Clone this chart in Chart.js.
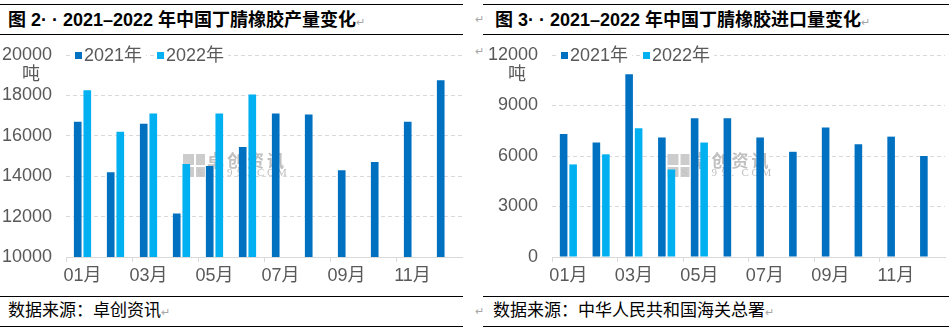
<!DOCTYPE html>
<html>
<head>
<meta charset="utf-8">
<script src="https://cdn.jsdelivr.net/npm/chart.js@4.4.1/dist/chart.umd.min.js"></script>
<style>
body { margin: 0; width: 949px; height: 330px; background: #fff; position: relative; overflow: hidden;
  font-family: "Liberation Sans", "Noto Sans CJK SC", sans-serif; }
.rule { position: absolute; height: 1px; background: #000; }
.title { position: absolute; font-weight: bold; font-size: 18px; line-height: 22px; color: #000; white-space: nowrap; }
.src { position: absolute; font-size: 17px; line-height: 20px; color: #000; white-space: nowrap; }
.mk { color: #a6a6a6; font-size: 11px; font-weight: normal; }
.cv { position: absolute; }
</style>
</head>
<body>
<div class="rule" style="left:0;top:4px;width:463px"></div>
<div class="rule" style="left:0;top:34px;width:463px"></div>
<div class="rule" style="left:0;top:296px;width:463px"></div>
<div class="rule" style="left:0;top:326px;width:463px"></div>
<div class="rule" style="left:483px;top:4px;width:466px"></div>
<div class="rule" style="left:483px;top:34px;width:466px"></div>
<div class="rule" style="left:483px;top:296px;width:466px"></div>
<div class="rule" style="left:483px;top:326px;width:466px"></div>

<div class="title" style="left:8px;top:9px">图 2· · 2021–2022 年中国丁腈橡胶产量变化<span class="mk">↵</span></div>
<div class="title" style="left:495px;top:9px">图 3· · 2021–2022 年中国丁腈橡胶进口量变化<span class="mk">↵</span></div>
<div class="src" style="left:8px;top:301px">数据来源：卓创资讯<span class="mk">↵</span></div>
<div class="src" style="left:493px;top:301px">数据来源：中华人民共和国海关总署<span class="mk">↵</span></div>
<div class="mk" style="position:absolute;left:475px;top:13px">↵</div>
<div class="mk" style="position:absolute;left:475px;top:45px">↵</div>
<div class="mk" style="position:absolute;left:475px;top:305px">↵</div>

<canvas id="c1" class="cv" width="463" height="259" style="left:0;top:36px"></canvas>
<canvas id="c2" class="cv" width="465" height="259" style="left:483px;top:36px"></canvas>

<script>
// 月份
var months = ['01月','02月','03月','04月','05月','06月','07月','08月','09月','10月','11月','12月'];
var seriesNames = ['2021年', '2022年'];

// 产量 (吨)
var prod2021 = [16700, 14200, 16600, 12150, 14500, 15450, 17100, 17050, 14300, 14700, 16700, 18750];
var prod2022 = [18250, 16200, 17100, 14600, 17100, 18050, null, null, null, null, null, null];
var prodTicks = [10000, 12000, 14000, 16000, 18000, 20000];

// 进口量 (吨)
var imp2021 = [7300, 6800, 10850, 7100, 8250, 8250, 7100, 6250, 7700, 6700, 7150, 6000];
var imp2022 = [5500, 6100, 7650, 5200, 6800, null, null, null, null, null, null, null];
var impTicks = [0, 3000, 6000, 9000, 12000];

var FONT = '"Liberation Sans Narrow", "Liberation Sans", "Noto Sans CJK SC", sans-serif';
var GREY = '#595959';
var GRID = '#d9d9d9';
var colors = ['#0070C0', '#00B0F0'];

var decor = {
  id: 'decor',
  beforeDatasetsDraw: function (chart) {
    // 卓创资讯 watermark
    var ctx = chart.ctx, a = chart.chartArea;
    var cx = (a.left + a.right) / 2 - 29, cy = (a.top + a.bottom) / 2 + 9;
    ctx.save();
    ctx.fillStyle = '#cccccc';
    ctx.fillRect(cx - 52, cy - 11, 22, 23);
    ctx.fillStyle = '#fff';
    ctx.fillRect(cx - 41, cy - 11, 2, 23);
    ctx.fillRect(cx - 52, cy, 22, 2);
    ctx.fillStyle = '#c0c0c0';
    ctx.font = 'bold 17px "Noto Sans CJK SC"';
    ctx.textBaseline = 'middle';
    '卓创资讯'.split('').forEach(function (ch, i) { ctx.fillText(ch, cx - 28 + i * 20, cy - 4); });
    ctx.font = '11px "Liberation Serif"';
    'SCI99.COM'.split('').forEach(function (ch, i) { ctx.fillText(ch, cx - 38 + i * 10, cy + 8); });
    ctx.restore();
  },
  afterDraw: function (chart) {
    var ctx = chart.ctx, a = chart.chartArea;
    ctx.save();
    ctx.font = '18px ' + FONT;
    ctx.textBaseline = 'middle';
    // unit
    ctx.fillStyle = GREY;
    ctx.textAlign = 'center';
    ctx.fillText('吨', a.left - 35, a.top + 20);
    // legend over the top grid line
    ctx.textAlign = 'left';
    var x = a.left + 9;
    chart.data.datasets.forEach(function (ds) {
      var w = ctx.measureText(ds.label).width;
      ctx.fillStyle = '#fff';
      ctx.fillRect(x - 2, a.top - 9, w + 15, 18);
      ctx.fillStyle = ds.backgroundColor;
      ctx.fillRect(x, a.top - 3, 7, 7);
      ctx.fillStyle = GREY;
      ctx.fillText(ds.label, x + 9, a.top + 1);
      x += w + 24;
    });
    ctx.restore();
  }
};

function makeChart(id, d1, d2, ticks, yw, padRight) {
  return new Chart(document.getElementById(id), {
    type: 'bar',
    data: {
      labels: months,
      datasets: [
        { label: seriesNames[0], data: d1, backgroundColor: colors[0] },
        { label: seriesNames[1], data: d2, backgroundColor: colors[1] }
      ]
    },
    options: {
      responsive: false,
      animation: false,
      devicePixelRatio: 1,
      layout: { padding: { top: 19, right: padRight, left: 0, bottom: 0 } },
      datasets: { bar: { categoryPercentage: 0.58, barPercentage: 0.8 } },
      plugins: { legend: { display: false }, tooltip: { enabled: false } },
      scales: {
        x: {
          afterFit: function (s) { s.height = 38; },
          border: { color: GRID, width: 1 },
          grid: {
            drawOnChartArea: false,
            drawTicks: true,
            tickLength: 5,
            color: function (c) { return (c.index !== undefined && c.index % 2 === 0) ? GRID : 'rgba(0,0,0,0)'; }
          },
          ticks: {
            autoSkip: false,
            maxRotation: 0,
            padding: 3,
            color: GREY,
            font: { family: FONT, size: 18 },
            callback: function (v, i) { return i % 2 === 0 ? months[i] : ''; }
          }
        },
        y: {
          min: ticks[0],
          max: ticks[ticks.length - 1],
          afterFit: function (s) { s.width = yw; },
          afterBuildTicks: function (s) { s.ticks = ticks.map(function (v) { return { value: v }; }); },
          border: { display: false, dash: [4, 3] },
          grid: { color: GRID, drawTicks: true, tickLength: 14, tickColor: 'rgba(0,0,0,0)' },
          ticks: {
            padding: 0,
            color: GREY,
            font: { family: FONT, size: 18 },
            callback: function (v) { return String(v); }
          }
        }
      }
    },
    plugins: [decor]
  });
}

makeChart('c1', prod2021, prod2022, prodTicks, 66, 1);
makeChart('c2', imp2021, imp2022, impTicks, 69, 3);
</script>
</body>
</html>
